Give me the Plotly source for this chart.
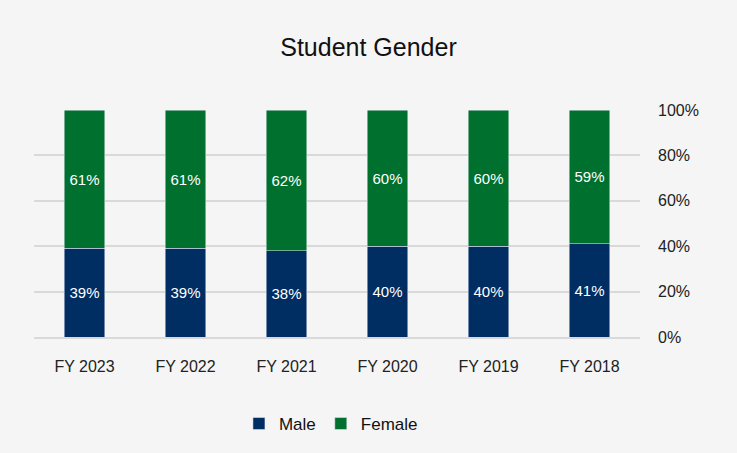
import plotly.graph_objects as go

years = ["FY 2018", "FY 2019", "FY 2020", "FY 2021", "FY 2022", "FY 2023"]
male = [41, 40, 40, 38, 39, 39]
female = [59, 60, 60, 62, 61, 61]
y_ticks = [0, 20, 40, 60, 80, 100]
y_tick_labels = ["0%", "20%", "40%", "60%", "80%", "100%"]

NAVY = "#002D62"
GREEN = "#00702F"
FONT = "Liberation Sans, Arial, sans-serif"

fig = go.Figure()
fig.add_trace(go.Bar(
    name="Male", x=years, y=male, marker_color=NAVY,
    text=[f"{v}%" for v in male], texttemplate="%{text}",
    textposition="inside", insidetextanchor="middle",
    textangle=0, textfont=dict(color="white", size=15, family=FONT),
))
fig.add_trace(go.Bar(
    name="Female", x=years, y=female, marker_color=GREEN,
    text=[f"{v}%" for v in female], texttemplate="%{text}",
    textposition="inside", insidetextanchor="middle",
    textangle=0, textfont=dict(color="white", size=15, family=FONT),
))

fig.update_layout(
    barmode="stack",
    bargap=0.6,
    width=737, height=453,
    margin=dict(l=34, r=97, t=110, b=115),
    paper_bgcolor="#f5f5f5",
    plot_bgcolor="#f5f5f5",
    font=dict(family=FONT, size=16, color="#222222"),
    title=dict(text="Student Gender", x=0.5, xanchor="center", y=0.895, yanchor="middle",
               font=dict(size=25, color="#111111", family=FONT)),
    showlegend=True,
    legend=dict(orientation="h", x=0.49, xanchor="center", y=-0.377, yanchor="middle",
                font=dict(size=17, color="#111111"), traceorder="normal",
                itemwidth=30, bgcolor="rgba(0,0,0,0)"),
)
fig.update_xaxes(
    categoryorder="array", categoryarray=years[::-1],
    showgrid=False, showline=True, linecolor="#d9d9d9", linewidth=2,
    ticks="", ticklabelstandoff=14, tickfont=dict(size=16, color="#222222"),
)
fig.update_yaxes(
    side="right", range=[0, 100], tickvals=y_ticks, ticktext=y_tick_labels,
    showgrid=True, gridcolor="#d9d9d9", gridwidth=2, zeroline=False,
    ticks="", ticklabelstandoff=17, tickfont=dict(size=16, color="#222222"),
)

fig.write_html(
    "out.html",
    config={"displayModeBar": False},
    post_script="document.body.style.margin='0';document.body.style.background='#f5f5f5';",
)
